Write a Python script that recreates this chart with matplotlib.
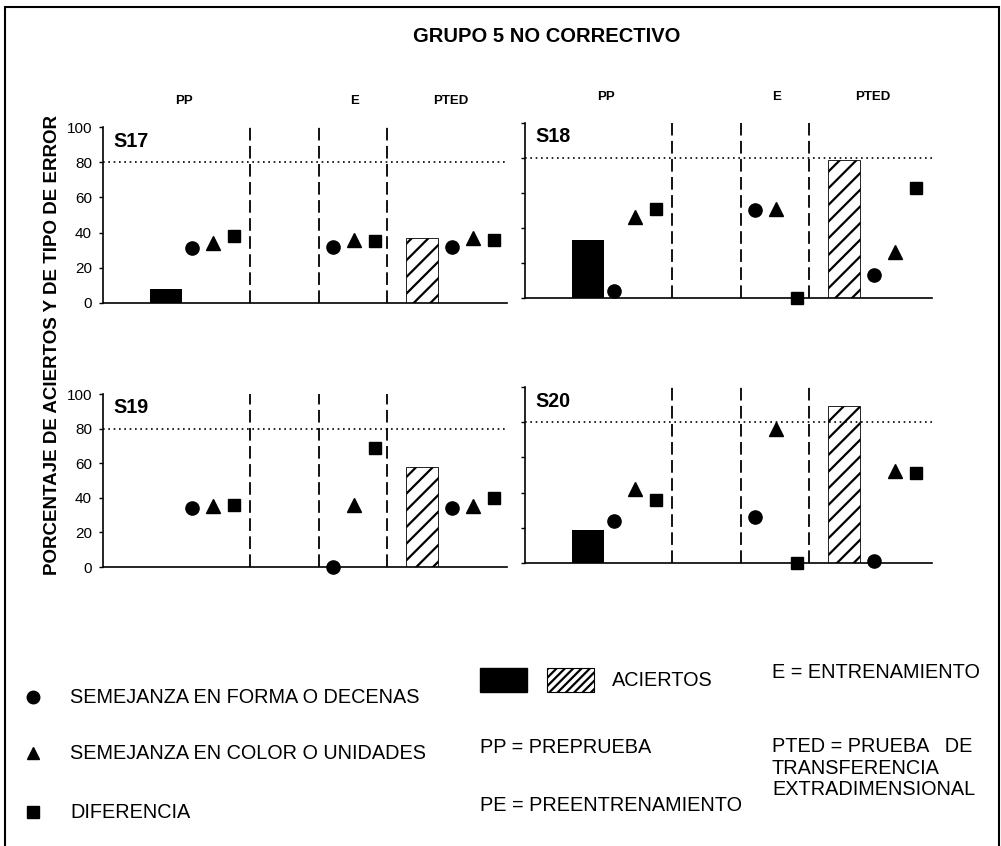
import matplotlib.pyplot as plt
from matplotlib.patches import Rectangle
from matplotlib.lines import Line2D

plt.rcParams['font.family'] = ['Liberation Sans', 'DejaVu Sans']
plt.rcParams['hatch.linewidth'] = 1.6

W, H = 1001, 846

subjects = ['S17', 'S18', 'S19', 'S20']
phases = ['PP', 'E', 'PTED']
# aciertos (bars): black = PP, hatched = PTED
aciertos_pp = [8, 33, 0, 19]
aciertos_pted = [37, 79, 58, 89]
# error types, one value per phase (PP, E, PTED)
forma = [[31, 32, 32], [4, 50, 13], [34, 0, 34], [24, 26, 1]]
color_err = [[34, 36, 37], [46, 51, 26], [35, 36, 35], [42, 76, 52]]
diferencia = [[38, 35, 36], [51, 0, 63], [36, 69, 40], [36, 0, 51]]
criterio = 80
yticks = [0, 20, 40, 60, 80, 100]

# layout: slot units along x (about 21 px each)
SLOT = 21.0
bar_pp_x = 3.0
bar_pted_x = 15.2
bar_w = 1.5
phase_x = [4.25, 10.95, 16.6]     # circle; triangle +1, square +2
dividers = [7.0, 10.3, 13.5]
header_x = [3.85, 12.0, 16.55]

# panel boxes in pixels: left, right, y of 0, y of 100
boxes = [(103, 507, 303, 127), (525, 932, 298, 123),
         (103, 507, 567, 394), (525, 932, 563, 387)]


def fx(x):
    return x / W


def fy(y):
    return 1 - y / H


fig = plt.figure(figsize=(W / 100, H / 100), dpi=100)

for i, name in enumerate(subjects):
    l, r, y0, y100 = boxes[i]
    ax = fig.add_axes([fx(l), fy(y0), (r - l) / W, (y0 - y100) / H])
    ax.set_xlim(0, (r - l) / SLOT)
    ax.set_ylim(0, 100)
    for s in ['top', 'right']:
        ax.spines[s].set_visible(False)
    ax.spines['left'].set_linewidth(1.2)
    ax.spines['bottom'].set_linewidth(1.2)
    ax.set_xticks([])
    ax.set_yticks(yticks)
    ax.tick_params(axis='y', direction='out', length=3, width=1, pad=5, labelsize=11)
    if i % 2 == 1:
        ax.set_yticklabels([])

    ax.axhline(criterio, ls=(0, (1, 2.2)), lw=1.2, color='black')
    ax.vlines(dividers, 0, 100, linestyles=(0, (7, 3)), lw=1.3, color='black')

    if aciertos_pp[i] > 0:
        ax.bar(bar_pp_x, aciertos_pp[i], width=bar_w, color='black')
    ax.bar(bar_pted_x, aciertos_pted[i], width=bar_w, facecolor='white',
           edgecolor='black', hatch='//', lw=0.6)

    for k in range(3):
        x = phase_x[k]
        ax.plot(x, forma[i][k], 'o', ms=9.5, color='black', clip_on=False)
        ax.plot(x + 1, color_err[i][k], '^', ms=10, color='black', clip_on=False)
        ax.plot(x + 2, diferencia[i][k], 's', ms=8.5, color='black', clip_on=False)

    ax.text(0.48, 92, name, ha='left', va='center', fontsize=14.2, fontweight='bold')
    if i < 2:
        for hx, ph in zip(header_x, phases):
            ax.text(hx, 115, ph, ha='center', va='center', fontsize=9.5,
                    fontweight='bold', clip_on=False)

fig.text(fx(547), fy(37), 'GRUPO 5 NO CORRECTIVO', ha='center', va='center',
         fontsize=14.5, fontweight='bold')
fig.text(fx(53), fy(345), 'PORCENTAJE DE ACIERTOS Y DE TIPO DE ERROR', rotation=90,
         ha='center', va='center', fontsize=13.5, fontweight='bold')

# legend
legend_rows = [('o', 9, 'SEMEJANZA EN FORMA O DECENAS', 697),
               ('^', 9, 'SEMEJANZA EN COLOR O UNIDADES', 753),
               ('s', 8, 'DIFERENCIA', 812)]
for m, ms, label, y in legend_rows:
    fig.add_artist(Line2D([fx(33)], [fy(y)], marker=m, ms=ms, color='black',
                          ls='none', transform=fig.transFigure))
    fig.text(fx(70), fy(y), label, ha='left', va='center', fontsize=14.3)

fig.add_artist(Rectangle((fx(480), fy(692)), 47 / W, 24 / H, facecolor='black',
                         edgecolor='black', transform=fig.transFigure))
fig.add_artist(Rectangle((fx(547), fy(692)), 47 / W, 24 / H, facecolor='white',
                         edgecolor='black', hatch='////', lw=0.8,
                         transform=fig.transFigure))
fig.text(fx(612), fy(680), 'ACIERTOS', ha='left', va='center', fontsize=14.3)
fig.text(fx(772), fy(672), 'E = ENTRENAMIENTO', ha='left', va='center', fontsize=14.3)
fig.text(fx(480), fy(747), 'PP = PREPRUEBA', ha='left', va='center', fontsize=14.3)
fig.text(fx(480), fy(805), 'PE = PREENTRENAMIENTO', ha='left', va='center', fontsize=14.3)
fig.text(fx(772), fy(768), 'PTED = PRUEBA   DE\nTRANSFERENCIA\nEXTRADIMENSIONAL',
         ha='left', va='center', fontsize=14.3, linespacing=1.15)

# outer frame
fig.add_artist(Rectangle((fx(5), -0.02), (999 - 5) / W, fy(7) + 0.02, fill=False,
                         edgecolor='black', lw=1.5, transform=fig.transFigure))

fig.savefig('out.png', dpi=100)
